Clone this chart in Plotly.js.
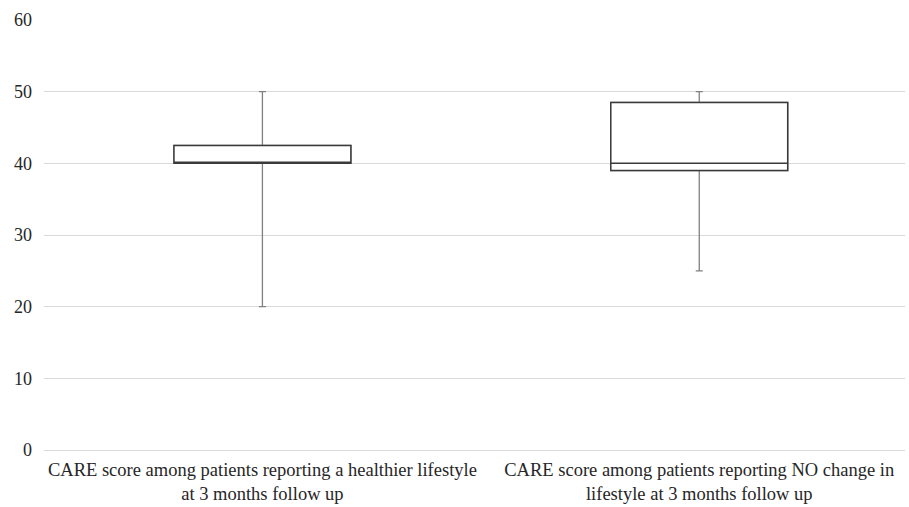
<!DOCTYPE html>
<html>
<head>
<meta charset="utf-8">
<script src="https://cdn.plot.ly/plotly-3.0.1.min.js"></script>
<style>html,body{margin:0;padding:0;background:#fff;}#chart{width:909px;height:507px;}</style>
</head>
<body>
<div id="chart"></div>
<script>
const categories = [
  "CARE score among patients reporting a healthier lifestyle<br>at 3 months follow up",
  "CARE score among patients reporting NO change in<br>lifestyle at 3 months follow up"
];
const q1Values = [40, 39];
const medianValues = [40, 40];
const q3Values = [42.5, 48.5];
const lowerWhisker = [20, 25];
const upperWhisker = [50, 50];
const yTickValues = [0, 10, 20, 30, 40, 50, 60];

const whiskerTrace = {
  type: 'box',
  x: categories,
  q1: q1Values,
  median: medianValues,
  q3: q3Values,
  lowerfence: lowerWhisker,
  upperfence: upperWhisker,
  width: 0.405,
  whiskerwidth: 0.04,
  line: {color: '#808080', width: 1.3},
  fillcolor: 'rgba(255,255,255,1)',
  hoverinfo: 'skip',
  showlegend: false
};
const boxTrace = {
  type: 'box',
  x: categories,
  q1: q1Values,
  median: medianValues,
  q3: q3Values,
  lowerfence: q1Values,
  upperfence: q3Values,
  width: 0.405,
  whiskerwidth: 0,
  line: {color: '#3a3a3a', width: 1.5},
  fillcolor: 'rgba(255,255,255,1)',
  showlegend: false
};

const serif = 'Liberation Serif';
const layout = {
  width: 909, height: 507,
  margin: {l: 44, r: 4, t: 20, b: 57},
  paper_bgcolor: '#fff', plot_bgcolor: '#fff',
  boxmode: 'overlay',
  showlegend: false,
  font: {family: serif, size: 18, color: '#262626'},
  xaxis: {
    type: 'category',
    range: [-0.5, 1.471],
    showgrid: false,
    showline: true, linecolor: '#d9d9d9', linewidth: 1,
    ticks: '', tickfont: {family: serif, size: 18.5, color: '#262626'},
    ticklabelstandoff: 3,
    zeroline: false
  },
  yaxis: {
    range: [0, 60],
    tickvals: yTickValues,
    ticktext: yTickValues.map(String),
    showgrid: true, gridcolor: '#d9d9d9', gridwidth: 1,
    zeroline: false, showline: false,
    ticks: '', ticklabelstandoff: 11,
    tickfont: {family: serif, size: 18, color: '#262626'}
  }
};

Plotly.newPlot('chart', [whiskerTrace, boxTrace], layout, {staticPlot: true, displayModeBar: false});
</script>
</body>
</html>
